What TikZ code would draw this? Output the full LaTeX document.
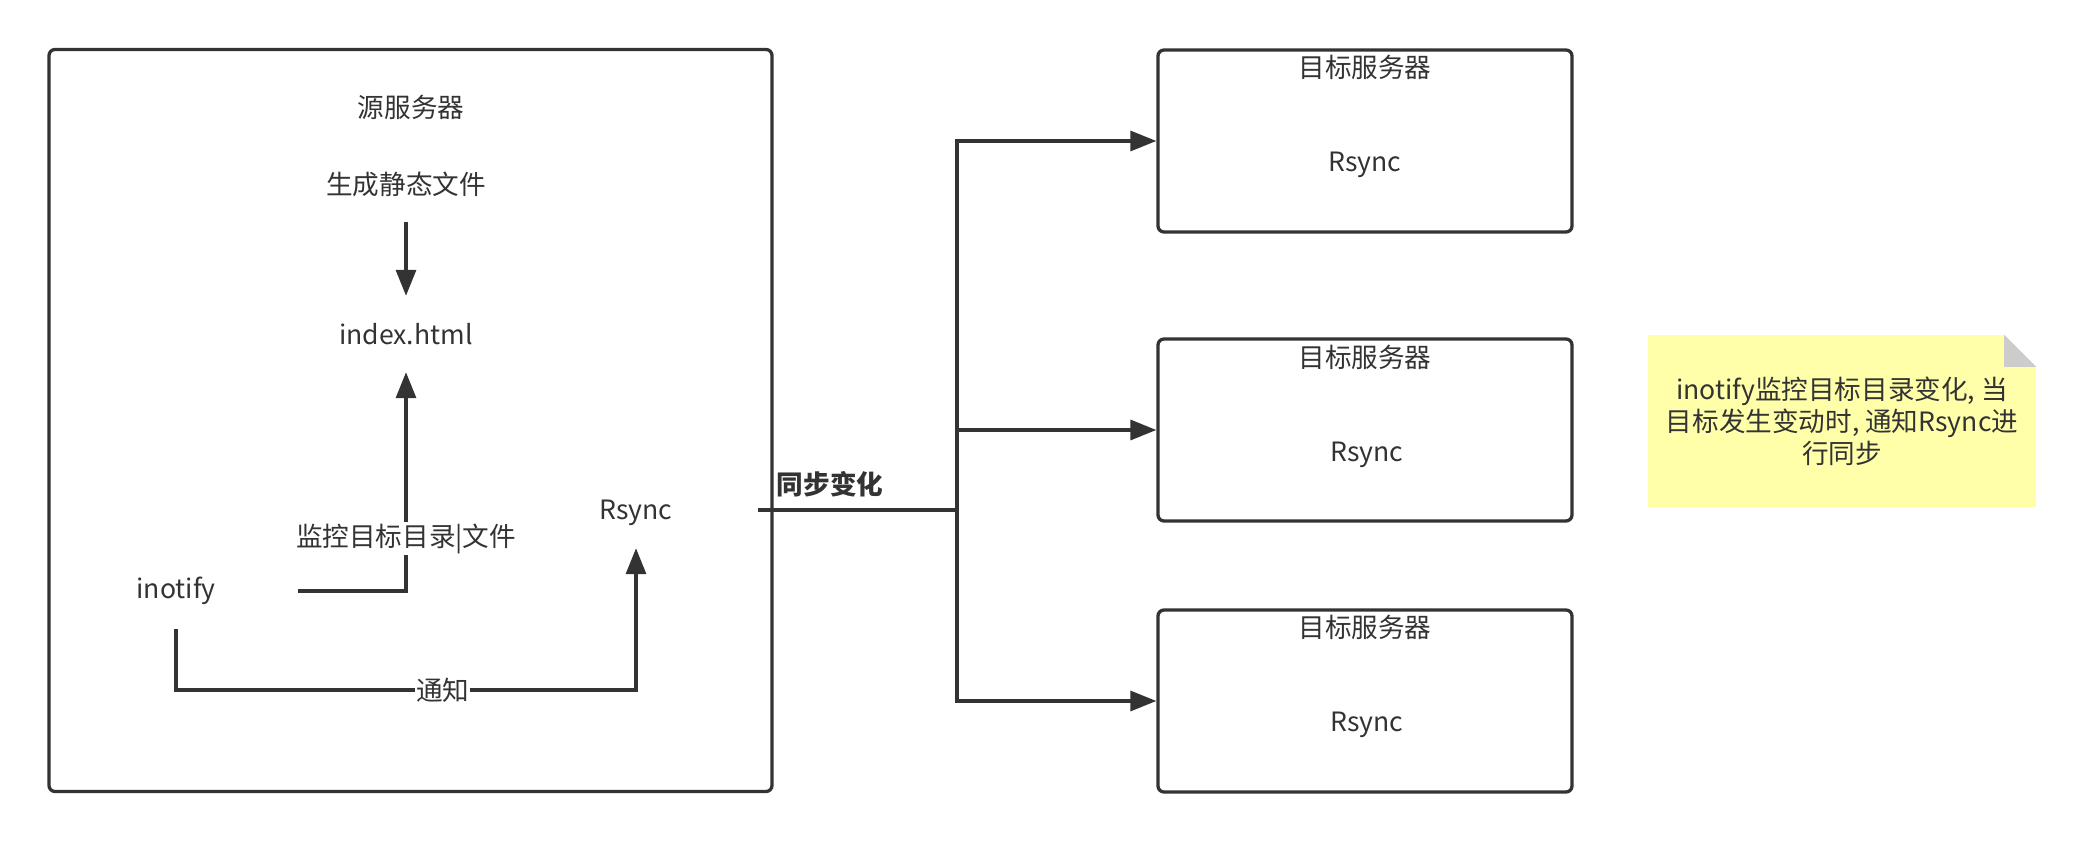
\documentclass[tikz,border=0pt]{standalone}
\usepackage{fontspec}
\setmainfont{Noto Sans CJK SC}
\usetikzlibrary{arrows.meta}
\definecolor{ink}{HTML}{333333}
\definecolor{notefill}{HTML}{FFFFAA}
\definecolor{foldfill}{HTML}{CCCCCC}
\begin{document}
\begin{tikzpicture}[x=1pt,y=-1pt,
  every node/.style={text=ink,font=\fontsize{26.6}{32}\selectfont},
  txt/.style={inner sep=0pt,minimum width=244pt,minimum height=76pt},
  lbl/.style={fill=white,inner sep=2pt},
  conn/.style={draw=ink,line width=3.3pt},
  arr/.style={conn,-{Triangle[length=26pt,width=20pt]}},
  box/.style={draw=ink,line width=3.3pt,rounded corners=6pt,inner sep=0pt},
  nodepth/.style={text depth=0pt}
]
\useasboundingbox (0,0) rectangle (2086,842);

% source server
\node[box,minimum width=723pt,minimum height=742pt] (src) at (410.5,420.5) {};
\node (srct) at (411,107) {源服务器};
\node[txt] (gen) at (406,184) {生成静态文件};
\node[txt] (idx) at (406,334) {index.html};
\node[txt] (ino) at (176,591) {inotify};
\node[txt,nodepth] (rs) at (636,510) {Rsync};

\draw[arr] (gen) -- (idx);
\draw[arr] (ino.east) -| node[lbl,pos=0.62] {监控目标目录|文件} (idx.south);
\coordinate (c1) at (176,690);
\coordinate (c2) at (636,690);
\draw[arr] (ino.south) -- (c1) -- node[lbl,pos=0.58,inner sep=1pt] {通知} (c2) -- (rs.south);

% targets
\node[box,minimum width=414pt,minimum height=182pt] (t1) at (1365,141) {};
\node[box,minimum width=414pt,minimum height=182pt] (t2) at (1365,430) {};
\node[box,minimum width=414pt,minimum height=182pt] (t3) at (1365,701) {};
\node (t1a) at (1365,67) {目标服务器};
\node[nodepth] (t1b) at (1365,162) {Rsync};
\node (t2a) at (1365,357) {目标服务器};
\node[nodepth] (t2b) at (1367,452) {Rsync};
\node (t3a) at (1365,627) {目标服务器};
\node[nodepth] (t3b) at (1367,722) {Rsync};

\coordinate (hub) at (957,510);
\draw[conn] (rs.east) -- (hub);
\draw[arr] (hub) |- (t1.west);
\draw[arr] (hub) |- (t2.west);
\draw[arr] (hub) |- (t3.west);
\node[font=\fontsize{26.6}{32}\selectfont\bfseries] (sync) at (830,484) {同步变化};

% note
\node[fill=notefill,minimum width=388pt,minimum height=172pt,align=center,inner sep=0pt] (note) at (1842,421)
  {inotify监控目标目录变化, 当\\目标发生变动时, 通知Rsync进\\行同步};
\fill[white] (note.north east) -- ++(-32,0) -- ++(32,32) -- cycle;
\fill[foldfill] (note.north east) ++(-32,0) -- ++(0,32) -- ++(32,0) -- cycle;
\end{tikzpicture}
\end{document}
